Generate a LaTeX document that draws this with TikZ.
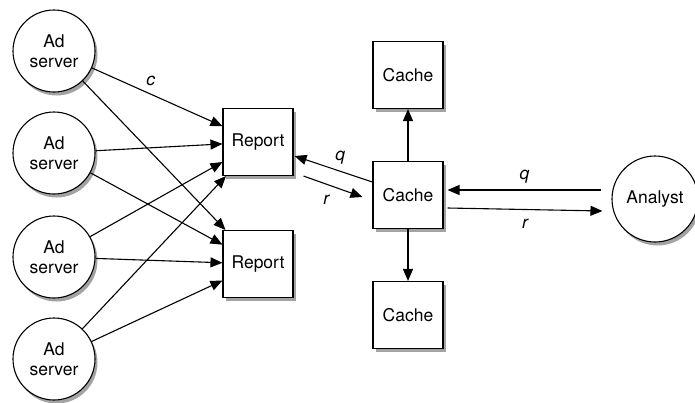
\documentclass[tikz,border=0pt]{standalone}
\usepackage{fontspec}
\setmainfont{TeX Gyre Heros}
\usetikzlibrary{arrows.meta,shadows,positioning}

\begin{document}
\begin{tikzpicture}[
  x=1pt, y=-1pt,
  font=\fontsize{17.5}{20}\selectfont,
  shade/.style={drop shadow={shadow xshift=2.5pt, shadow yshift=-3.5pt, opacity=0.45, fill=black!80}},
  server/.style={circle, draw, line width=1.1pt, fill=white, minimum size=82pt, inner sep=0pt, align=center, shade},
  store/.style={rectangle, draw, line width=1.1pt, fill=white, minimum width=70pt, minimum height=67pt, inner sep=0pt, align=center, shade},
  arr/.style={-{Triangle[length=12pt,width=10pt]}, line width=1.1pt},
  lbl/.style={font=\fontsize{17.5}{20}\selectfont\itshape}
]
\useasboundingbox (0,0) rectangle (695,402);

\node[server] (ad1) at (54,51) {Ad\\server};
\node[server] (ad2) at (54,153) {Ad\\server};
\node[server] (ad3) at (54,257) {Ad\\server};
\node[server] (ad4) at (54,359) {Ad\\server};

\node[store] (rep1) at (258,142) {Report};
\node[store] (rep2) at (258,264) {Report};

\node[store] (cacheup) at (408,75) {Cache};
\node[store] (cache) at (408,195) {Cache};
\node[store] (cachedown) at (408,315) {Cache};

\node[server, minimum size=86pt] (analyst) at (655,199) {Analyst};

% ad servers to reports
\draw[arr] (ad1) -- (rep1) node[lbl, pos=0.45, above=4pt] {c};
\draw[arr] (ad1) -- (rep2);
\draw[arr] (ad2) -- (rep1);
\draw[arr] (ad2) -- (rep2);
\draw[arr] (ad3) -- (rep1);
\draw[arr] (ad3) -- (rep2);
\draw[arr] (ad4) -- (rep1);
\draw[arr] (ad4) -- (rep2);

% report and cache
\draw[arr] ([yshift=13pt]cache.west) -- ([xshift=1pt,yshift=-14pt]rep1.east)
  node[lbl, midway, above right=1pt and -2pt] {q};
\draw[arr] ([xshift=10pt]rep1.south east) -- ([xshift=-10pt,yshift=-2pt]cache.west)
  node[lbl, midway, below left=5pt and 0pt] {r};

% cache hierarchy
\draw[arr] (cache) -- (cacheup);
\draw[arr] (cache) -- (cachedown);

% cache and analyst
\draw[arr] ([xshift=-10pt,yshift=9pt]analyst.west) -- ([xshift=4pt,yshift=5pt]cache.east)
  node[lbl, midway, above=3pt] {q};
\draw[arr] ([xshift=4pt,yshift=-13pt]cache.east) -- ([xshift=-9pt,yshift=-12pt]analyst.west)
  node[lbl, midway, below=6pt] {r};
\end{tikzpicture}
\end{document}
